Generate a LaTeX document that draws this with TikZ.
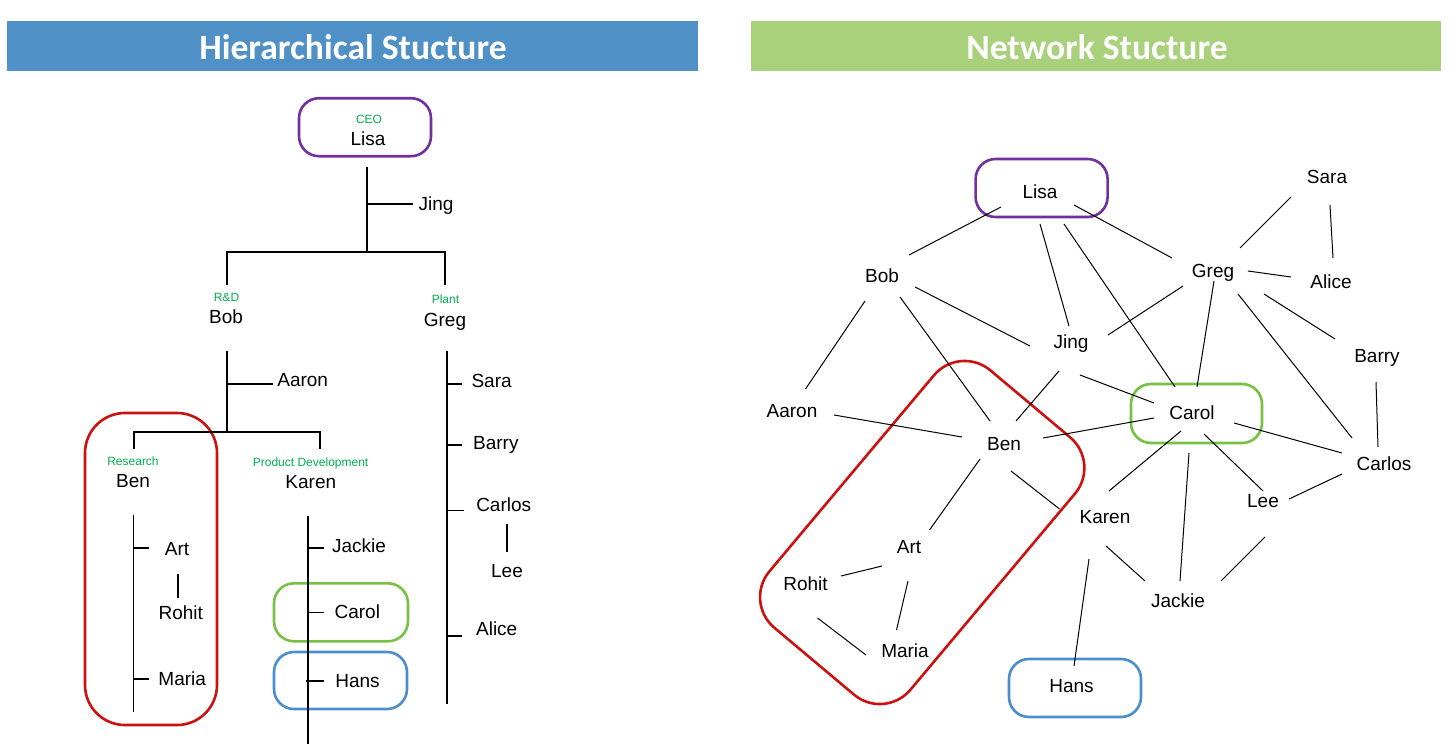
\documentclass[tikz,border=0pt]{standalone}
\usepackage{fontspec}
\setmainfont{Liberation Sans}
\newfontfamily\titlefont{Carlito}
\usetikzlibrary{calc}
\definecolor{hblue}{HTML}{4F91C6}
\definecolor{hgreen}{HTML}{A9D07A}
\definecolor{cpurple}{HTML}{7030A0}
\definecolor{cred}{HTML}{CC1111}
\definecolor{cgreen}{HTML}{78C043}
\definecolor{cblue}{HTML}{4A8FCC}
\definecolor{lgreen}{HTML}{00B050}
\begin{document}
\begin{tikzpicture}[x=1pt,y=-1pt,
  pname/.style={font=\fontsize{19}{19}\selectfont, inner sep=0pt, text height=13.6pt, text depth=0pt, anchor=center},
  prole/.style={font=\fontsize{12}{12}\selectfont, text=lgreen, inner sep=0pt, text height=8.6pt, text depth=0pt, anchor=center},
  tline/.style={line width=1.3pt},
  grp/.style={line width=2.6pt, rounded corners=20pt, minimum width=132pt, minimum height=58pt, inner sep=0pt},
  netedge/.style={line width=1pt},
  ttl/.style={font=\titlefont\bfseries\fontsize{35.6}{36}\selectfont, text=white, inner sep=0pt, text height=23pt, text depth=0pt, anchor=center}
]
\useasboundingbox[fill=white] (0,0) rectangle (1456,744);

% headers
\fill[hblue] (7,21) rectangle (698,71);
\fill[hgreen] (751,21) rectangle (1441,71);
\node[ttl] (title1) at (353,48) {Hierarchical Stucture};
\node[ttl] (title2) at (1097,48) {Network Stucture};

% ---------------- hierarchical tree ----------------
\node[grp, draw=cpurple] (tLisaBox) at (365,127.2) {};
\node[grp, draw=cred, rounded corners=40pt, minimum width=132pt, minimum height=312pt] (tRedBox) at (151,569) {};
\node[grp, draw=cgreen, minimum width=134pt] (tCarolBox) at (341,612.3) {};
\node[grp, draw=cblue, minimum width=133pt, minimum height=57pt] (tHansBox) at (340.5,680.5) {};

\node[prole] (tCEO) at (369,119) {CEO};
\node[pname] (tLisa) at (368,139) {Lisa};
\node[pname] (tJing) at (436,204) {Jing};
\node[prole] (tRD) at (226.5,297) {R\&D};
\node[pname] (tBob) at (226,317) {Bob};
\node[prole] (tPlant) at (445.5,299) {Plant};
\node[pname] (tGreg) at (445,319.3) {Greg};
\node[pname] (tAaron) at (302.7,380) {Aaron};
\node[prole] (tResearch) at (133,460.8) {Research};
\node[pname] (tBen) at (133,480.7) {Ben};
\node[prole] (tPD) at (310.6,461.8) {Product Development};
\node[pname] (tKaren) at (310.8,481.7) {Karen};
\node[pname] (tArt) at (177,549) {Art};
\node[pname] (tRohit) at (180.8,612.3) {Rohit};
\node[pname] (tMaria) at (182.2,679) {Maria};
\node[pname] (tJackie) at (359.1,545.7) {Jackie};
\node[pname] (tCarol) at (357.3,611.3) {Carol};
\node[pname] (tHans) at (357.5,681) {Hans};
\node[pname] (tSara) at (491.6,381) {Sara};
\node[pname] (tBarry) at (495.8,443) {Barry};
\node[pname] (tCarlos) at (503.7,505) {Carlos};
\node[pname] (tLee) at (507,570.7) {Lee};
\node[pname] (tAlice) at (496.7,629) {Alice};

% tree lines
\draw[tline] (367,167) -- (367,252);
\draw[tline] (367,204) -- (413,204);
\draw[tline] (227,285) -- (227,252) -- (445,252) -- (445,285);
\draw[tline] (227,351) -- (227,432);
\draw[tline] (227,384) -- (273,384);
\draw[tline] (134,449) -- (134,432) -- (320,432) -- (320,449);
\draw[tline] (133.5,515) -- (133.5,712);
\draw[tline] (133.5,548) -- (148.5,548);
\draw[tline] (133.5,679) -- (148.5,679);
\draw[tline] (178,574) -- (178,598);
\draw[tline] (308,516) -- (308,744);
\draw[tline] (308,548) -- (323.6,548);
\draw[tline] (308,612.7) -- (324,612.7);
\draw[tline] (306,681) -- (324,681);
\draw[tline] (447,351) -- (447,704);
\draw[tline] (447,384) -- (462,384);
\draw[tline] (447,445) -- (462,445);
\draw[line width=0.8pt] (447,510) -- (464,510);
\draw[tline] (507,524) -- (507,552);
\draw[tline] (447,636) -- (462,636);

% ---------------- network ----------------
\node[grp, draw=cpurple] (nLisaBox) at (1041.6,188) {};
\node[grp, draw=cgreen, minimum width=131pt, minimum height=59pt] (nCarolBox) at (1196.5,413.5) {};
\node[grp, draw=cblue] (nHansBox) at (1075,688) {};
\draw[line width=2.6pt, cred, rounded corners=40pt]
  ($(959.7,344.6)!0.5!(1100.7,463)$) -- (1100.7,463) -- (884.7,720.4) -- (743.7,602) -- (959.7,344.6) -- ($(959.7,344.6)!0.5!(1100.7,463)$);

\node[pname] (nLisa) at (1040,192) {Lisa};
\node[pname] (nSara) at (1327,177) {Sara};
\node[pname] (nBob) at (882,276) {Bob};
\node[pname] (nGreg) at (1213,271) {Greg};
\node[pname] (nAlice) at (1331,282) {Alice};
\node[pname] (nJing) at (1071,342) {Jing};
\node[pname] (nBarry) at (1377,356) {Barry};
\node[pname] (nAaron) at (792,411) {Aaron};
\node[pname] (nCarol) at (1192,413) {Carol};
\node[pname] (nBen) at (1004,444) {Ben};
\node[pname] (nCarlos) at (1384,464) {Carlos};
\node[pname] (nKaren) at (1105,517) {Karen};
\node[pname] (nLee) at (1263,501) {Lee};
\node[pname] (nArt) at (909,547) {Art};
\node[pname] (nRohit) at (805.5,584) {Rohit};
\node[pname] (nJackie) at (1178,601) {Jackie};
\node[pname] (nMaria) at (905,651) {Maria};
\node[pname] (nHans) at (1071.5,686) {Hans};

\foreach \a/\ax/\ay/\b/\bx/\by in {
  nLisa/-39/15/nBob/27/-21,
  nLisa/0/32/nJing/-2/-16,
  nLisa/24/32/nCarol/-17/-26,
  nLisa/34/13/nGreg/-41/-13,
  nSara/-36/20/nGreg/27/-23,
  nSara/3/28/nAlice/2/-24,
  nGreg/35/0/nAlice/-40/-5,
  nGreg/-30/15/nJing/37/-7,
  nGreg/1/10/nCarol/5/-26,
  nGreg/51/23/nBarry/-42/-17,
  nGreg/25/23/nCarlos/-32/-26,
  nBob/-17/25/nAaron/13.5/-22,
  nBob/18/21/nBen/-14/-23,
  nBob/33/11/nJing/-41/4,
  nJing/-12/29/nBen/12/-23,
  nJing/9/33/nCarol/-38/-10,
  nAaron/42/4/nBen/-42/-7,
  nBen/39/-6/nCarol/-38/5,
  nBarry/-1/26/nCarlos/-6/-17,
  nCarol/42/10/nCarlos/-42/-11,
  nCarol/-11/18/nKaren/4/-26,
  nCarol/-3/40/nJackie/2/-20,
  nCarol/12/21/nLee/0/-10,
  nCarlos/-42/10/nLee/26/-2,
  nBen/-24/15/nArt/20.5/-17,
  nBen/7/27/nKaren/-45.5/-8,
  nArt/-27/19/nRohit/35.5/-8,
  nArt/-1/34/nMaria/-8.5/-21,
  nRohit/12/34/nMaria/-39/4,
  nKaren/1/29/nJackie/-33/-20,
  nKaren/-16/42/nHans/2.5/-20,
  nLee/2/36/nJackie/43/-20}
  \draw[netedge] ($(\a)+(\ax,\ay)$) -- ($(\b)+(\bx,\by)$);
\end{tikzpicture}
\end{document}
